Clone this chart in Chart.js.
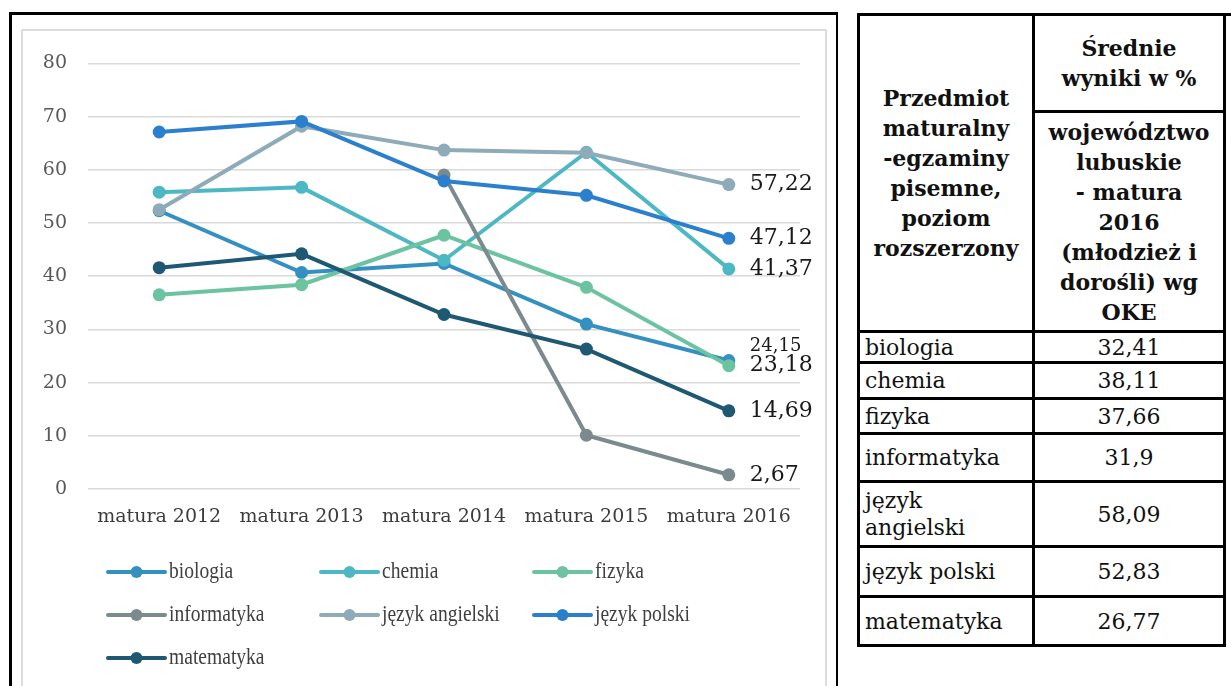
<!DOCTYPE html>
<html lang="pl">
<head>
<meta charset="utf-8">
<title>Matura - wyniki</title>
<script src="https://cdn.jsdelivr.net/npm/chart.js@4/dist/chart.umd.min.js"></script>
<style>
  html, body { margin: 0; padding: 0; background: #fff; }
  body { width: 1231px; height: 686px; overflow: hidden; position: relative; }
  #frame {
    position: absolute; left: 9px; top: 12px; width: 824px; height: 700px;
    border: solid #000; border-width: 3px 2px 0 3px;
  }
  #topExt { position: absolute; left: 1220px; top: 13px; width: 11px; height: 3px; background: #000; }
  #chartBox {
    position: absolute; left: 21px; top: 29px; width: 802px; height: 680px;
    border: 2px solid #dcdcdc;
  }
  #chartBox canvas { position: absolute; left: 0; top: 0; }
  #tbl {
    position: absolute; left: 857px; top: 13px; width: 366px;
    border-collapse: collapse; font-family: "DejaVu Serif", serif; color: #111;
    table-layout: fixed;
  }
  #tbl td, #tbl th { border: 3px solid #000; padding: 0 5px; }
  #tbl th { font-weight: bold; font-size: 22px; line-height: 30px; text-align: center; white-space: nowrap; }
  #tbl td { font-size: 22px; line-height: 27px; }
  #tbl td.v { text-align: center; }
</style>
</head>
<body>
<div id="frame"></div>
<div id="topExt"></div>
<div id="chartBox"><canvas id="chart" width="802" height="660"></canvas></div>

<table id="tbl">
  <colgroup><col style="width:175px"><col style="width:191px"></colgroup>
  <tr style="height:97px">
    <th rowspan="2">Przedmiot<br>maturalny<br>-egzaminy<br>pisemne,<br>poziom<br>rozszerzony</th>
    <th>Średnie<br>wyniki w %</th>
  </tr>
  <tr style="height:220px">
    <th>województwo<br>lubuskie<br>- matura<br>2016<br>(młodzież i<br>dorośli) wg<br>OKE</th>
  </tr>
  <tbody id="rows"></tbody>
</table>

<script>
// chart data
const categories = ['matura 2012', 'matura 2013', 'matura 2014', 'matura 2015', 'matura 2016'];
const seriesNames = ['biologia', 'chemia', 'fizyka', 'informatyka', 'język angielski', 'język polski', 'matematyka'];
const biologia = [52.3, 40.7, 42.4, 31.0, 24.15];
const chemia = [55.8, 56.7, 43.0, 63.3, 41.37];
const fizyka = [36.5, 38.4, 47.7, 37.9, 23.18];
const informatyka = [null, null, 59.0, 10.1, 2.67];
const jezykAngielski = [52.5, 68.2, 63.7, 63.2, 57.22];
const jezykPolski = [67.1, 69.1, 57.9, 55.2, 47.12];
const matematyka = [41.6, 44.2, 32.8, 26.3, 14.69];
const yTicks = [0, 10, 20, 30, 40, 50, 60, 70, 80];

// table data
const tableSubjects = ['biologia', 'chemia', 'fizyka', 'informatyka', 'język angielski', 'język polski', 'matematyka'];
const tableValues = ['32,41', '38,11', '37,66', '31,9', '58,09', '52,83', '26,77'];
const rowHeights = [31, 36, 35, 48, 65, 50, 49];

const colors = ['#3590C2', '#4DB8C4', '#6CC3A2', '#7B8B8D', '#8DABB9', '#2B80CE', '#1E5873'];
const allSeries = [biologia, chemia, fizyka, informatyka, jezykAngielski, jezykPolski, matematyka];

// build table body
const tbody = document.getElementById('rows');
tableSubjects.forEach((s, i) => {
  const tr = document.createElement('tr');
  tr.style.height = rowHeights[i] + 'px';
  const name = s === 'język angielski' ? 'język<br>angielski' : s;
  tr.innerHTML = `<td>${name}</td><td class="v">${tableValues[i]}</td>`;
  tbody.appendChild(tr);
});

// value labels at the last point of each line
const endLabels = {
  id: 'endLabels',
  afterDatasetsDraw(chart, args, opts) {
    const ctx = chart.ctx;
    chart.data.datasets.forEach((ds, i) => {
      const meta = chart.getDatasetMeta(i);
      const last = ds.data.length - 1;
      const pt = meta.data[last];
      if (!pt || ds.data[last] == null) return;
      const small = opts.small.includes(i);
      ctx.save();
      ctx.font = (small ? opts.smallSize : opts.size) + 'px "DejaVu Serif", serif';
      ctx.fillStyle = '#1a1a1a';
      ctx.textAlign = 'left';
      ctx.textBaseline = 'middle';
      ctx.fillText(ds.data[last].toFixed(2).replace('.', ','), pt.x + opts.gap, pt.y + (opts.offsets[i] || 0));
      ctx.restore();
    });
  }
};

// Excel-like legend laid out in a grid under the plot
const gridLegend = {
  id: 'gridLegend',
  afterDraw(chart, args, opts) {
    const ctx = chart.ctx;
    const { left, bottom } = chart.chartArea;
    chart.data.datasets.forEach((ds, i) => {
      const col = i % opts.columns;
      const row = Math.floor(i / opts.columns);
      const x = left + opts.offsetX + col * opts.colWidth;
      const y = bottom + opts.offsetY + row * opts.rowHeight;
      ctx.save();
      ctx.strokeStyle = ds.borderColor;
      ctx.lineWidth = 4;
      ctx.lineCap = 'round';
      ctx.beginPath();
      ctx.moveTo(x, y);
      ctx.lineTo(x + opts.symbolWidth, y);
      ctx.stroke();
      ctx.fillStyle = ds.borderColor;
      ctx.beginPath();
      ctx.arc(x + opts.symbolWidth / 2, y, 6, 0, Math.PI * 2);
      ctx.fill();
      // narrow serif text, like the original legend
      ctx.fillStyle = '#404040';
      ctx.font = opts.font;
      ctx.textBaseline = 'middle';
      ctx.translate(x + opts.symbolWidth + 4, y);
      ctx.scale(opts.textScaleX, 1);
      ctx.fillText(ds.label, 0, 0);
      ctx.restore();
    });
  }
};

const datasets = seriesNames.map((name, i) => ({
  label: name,
  data: allSeries[i],
  borderColor: colors[i],
  backgroundColor: colors[i],
  borderWidth: 4,
  pointRadius: 6.5,
  pointHoverRadius: 6.5,
  pointBorderWidth: 0,
  tension: 0,
  spanGaps: false,
  order: seriesNames.length - i
}));

const tickFont = { family: '"DejaVu Serif", serif', size: 19 };

new Chart(document.getElementById('chart'), {
  type: 'line',
  data: { labels: categories, datasets },
  options: {
    responsive: false,
    animation: false,
    layout: { padding: { top: 29, right: 25, bottom: 142, left: 0 } },
    scales: {
      x: {
        offset: true,
        grid: { display: false, drawTicks: false },
        border: { display: false },
        ticks: { font: tickFont, color: '#3c3c3c', padding: 17, maxRotation: 0, autoSkip: false },
        afterFit: (axis) => { axis.height = 60; }
      },
      y: {
        min: 0,
        max: 80,
        afterBuildTicks: (axis) => { axis.ticks = yTicks.map(v => ({ value: v })); },
        grid: { color: '#d9d9d9', lineWidth: 1.5, drawTicks: false },
        border: { display: false },
        ticks: { font: tickFont, color: '#595959', padding: 21 },
        afterFit: (axis) => { axis.width = 65; }
      }
    },
    plugins: {
      legend: { display: false },
      tooltip: { enabled: false },
      endLabels: { gap: 21, size: 22, smallSize: 18, small: [0], offsets: { 0: -14 } },
      gridLegend: {
        columns: 3, colWidth: 213, rowHeight: 43, offsetX: 20, offsetY: 83,
        symbolWidth: 57, font: '23px "Liberation Serif", serif', textScaleX: 0.85
      }
    }
  },
  plugins: [endLabels, gridLegend]
});
</script>
</body>
</html>
